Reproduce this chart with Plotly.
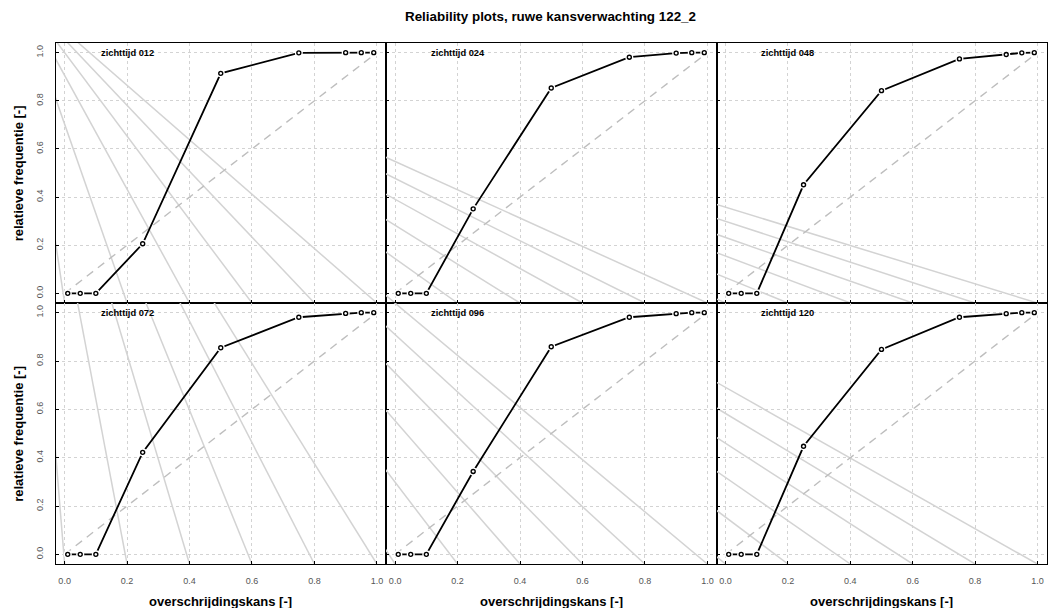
import plotly.graph_objects as go

# ---------------- data ----------------
prob_levels = [0.01, 0.05, 0.10, 0.25, 0.50, 0.75, 0.90, 0.95, 0.99]
lead_times = ["012", "024", "048", "072", "096", "120"]
freq_012 = [0.0, 0.0, 0.0, 0.206, 0.914, 0.999, 1.0, 1.0, 1.0]
freq_024 = [0.0, 0.0, 0.0, 0.351, 0.853, 0.981, 0.998, 1.0, 1.0]
freq_048 = [0.0, 0.0, 0.0, 0.451, 0.842, 0.974, 0.992, 0.999, 1.0]
freq_072 = [0.0, 0.0, 0.0, 0.422, 0.855, 0.981, 0.997, 1.0, 1.0]
freq_096 = [0.0, 0.0, 0.0, 0.343, 0.859, 0.981, 0.996, 1.0, 1.0]
freq_120 = [0.0, 0.0, 0.0, 0.447, 0.848, 0.981, 0.996, 1.0, 1.0]
freqs = [freq_012, freq_024, freq_048, freq_072, freq_096, freq_120]

tick_vals = [0.0, 0.2, 0.4, 0.6, 0.8, 1.0]
tick_text = ["0.0", "0.2", "0.4", "0.6", "0.8", "1.0"]

# grey guide lines: from a common apex (panel coordinates) to the bottom tick positions
guide_x0 = [0.0, 0.2, 0.4, 0.6, 0.8, 1.0]
apex_x = [-0.150, -1.211, -2.266, -0.150, -1.211, -2.266]
apex_y = [1.26, 1.26, 1.26, 2.346, 2.346, 2.346]

title_text = "Reliability plots, ruwe kansverwachting 122_2"
xlab = "overschrijdingskans [-]"
ylab = "relatieve frequentie [-]"

# ---------------- layout geometry ----------------
W, H = 1049, 608
col_px = [(55.5, 386.0), (386.0, 716.5), (716.5, 1046.5)]
row_px = [(43.0, 303.0), (303.0, 564.0)]
XR = [-0.0292, 1.0292]
YR = [-0.04, 1.04]
FONT = "Liberation Sans, Arial, Helvetica, sans-serif"

fig = go.Figure()
layout = dict(
    width=W, height=H, margin=dict(l=0, r=0, t=0, b=0),
    paper_bgcolor="white", plot_bgcolor="white", showlegend=False,
    font=dict(family=FONT, color="black"),
)
annotations = []

for i in range(6):
    r, c = divmod(i, 3)
    n = "" if i == 0 else str(i + 1)
    xa, ya = "x" + n, "y" + n
    x0p, x1p = col_px[c]
    y0p, y1p = row_px[r]
    common = dict(
        showgrid=True, gridcolor="#d3d3d3", gridwidth=1, griddash="dot",
        zeroline=False, showline=True, mirror=True, linecolor="black", linewidth=1.3,
        ticks="inside", ticklen=3, tickwidth=1, tickcolor="black",
        tickvals=tick_vals, ticktext=tick_text,
        tickfont=dict(size=9, color="#555555", family=FONT),
        fixedrange=True,
    )
    layout["xaxis" + n] = dict(
        common, domain=[x0p / W, x1p / W], range=XR, anchor=ya,
        showticklabels=(r == 1), ticklabelstandoff=8,
    )
    layout["yaxis" + n] = dict(
        common, domain=[1 - y1p / H, 1 - y0p / H], range=YR, anchor=xa,
        showticklabels=(c == 0), tickangle=-90, ticklabelstandoff=8,
    )

    # grey guide lines
    for gx in guide_x0:
        fig.add_trace(go.Scatter(
            x=[apex_x[i], gx], y=[apex_y[i], YR[0]], mode="lines",
            line=dict(color="#d3d3d3", width=1.5), xaxis=xa, yaxis=ya,
            hoverinfo="skip"))

    # diagonal (perfect reliability)
    fig.add_trace(go.Scatter(
        x=[0, 1], y=[0, 1], mode="lines",
        line=dict(color="#bebebe", width=1.4, dash="8px,6px"),
        xaxis=xa, yaxis=ya, hoverinfo="skip"))

    # reliability curve (R type="b": line with gaps around points)
    fig.add_trace(go.Scatter(
        x=prob_levels, y=freqs[i], mode="lines",
        line=dict(color="black", width=1.8), xaxis=xa, yaxis=ya, hoverinfo="skip"))
    fig.add_trace(go.Scatter(
        x=prob_levels, y=freqs[i], mode="markers",
        marker=dict(symbol="circle", size=8, color="white", line=dict(width=0)),
        xaxis=xa, yaxis=ya, hoverinfo="skip", cliponaxis=False))
    fig.add_trace(go.Scatter(
        x=prob_levels, y=freqs[i], mode="markers",
        marker=dict(symbol="circle-open", size=4, color="black", line=dict(width=1.4)),
        xaxis=xa, yaxis=ya, cliponaxis=False))

    annotations.append(dict(
        x=0.2, y=1.0, xref=xa, yref=ya, text="<b>zichttijd %s</b>" % lead_times[i],
        showarrow=False, xanchor="center", yanchor="middle",
        font=dict(size=9.3, family=FONT, color="black")))

# titles
annotations.append(dict(
    x=550.5 / W, y=1 - 16.7 / H, xref="paper", yref="paper",
    text="<b>%s</b>" % title_text, showarrow=False,
    xanchor="center", yanchor="middle", font=dict(size=13.4, family=FONT)))
for (y0p, y1p) in row_px:
    annotations.append(dict(
        x=18.3 / W, y=1 - (y0p + y1p) / 2 / H, xref="paper", yref="paper",
        text="<b>%s</b>" % ylab, showarrow=False, textangle=-90,
        xanchor="center", yanchor="middle", font=dict(size=13, family=FONT)))
for (x0p, x1p) in col_px:
    annotations.append(dict(
        x=(x0p + x1p) / 2 / W, y=1 - 601.7 / H, xref="paper", yref="paper",
        text="<b>%s</b>" % xlab, showarrow=False,
        xanchor="center", yanchor="middle", font=dict(size=13, family=FONT)))

layout["annotations"] = annotations
fig.update_layout(**layout)
fig.write_html("out.html")
